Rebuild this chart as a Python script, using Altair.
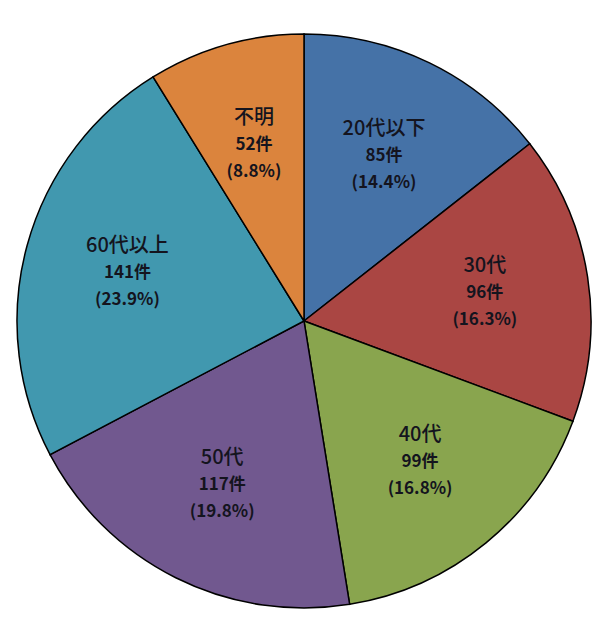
import altair as alt
import pandas as pd

categories = ["20代以下", "30代", "40代", "50代", "60代以上", "不明"]
counts = [85, 96, 99, 117, 141, 52]
percents = ["14.4%", "16.3%", "16.8%", "19.8%", "23.9%", "8.8%"]
colors = ["#4572A7", "#AA4643", "#89A54E", "#71588F", "#4198AF", "#DB843D"]

df = pd.DataFrame({
    "cat": categories,
    "n": counts,
    "order": list(range(len(categories))),
    "count_label": [f"{c}件" for c in counts],
    "pct_label": [f"({p})" for p in percents],
})

cx, cy, R, LR = 304, 321, 287, 183

base = alt.Chart(df).encode(
    theta=alt.Theta("n:Q", stack=True),
    order=alt.Order("order:Q"),
)

pie = base.mark_arc(stroke="#000000", strokeWidth=1.5).encode(
    color=alt.Color("cat:N", scale=alt.Scale(domain=categories, range=colors), legend=None),
    x=alt.value(cx), y=alt.value(cy),
    radius=alt.value(R),
)

def txt(field, dy, size, weight, font):
    return base.mark_text(dy=dy, fontSize=size, fontWeight=weight, font=font,
                          color="#14141e", align="center", baseline="middle").encode(
        text=f"{field}:N", x=alt.value(cx), y=alt.value(cy), radius=alt.value(LR))

chart = alt.layer(
    pie,
    txt("cat", -27, 20, 500, "Noto Sans CJK JP"),
    txt("count_label", 0, 17, "bold", "Noto Sans CJK JP"),
    txt("pct_label", 27, 17, "bold", "Noto Sans CJK JP"),
).properties(width=609, height=635, padding=0, autosize="none", background="white"
).configure_view(stroke=None)

chart.save("out.html", embed_options={"renderer": "svg", "actions": False})
